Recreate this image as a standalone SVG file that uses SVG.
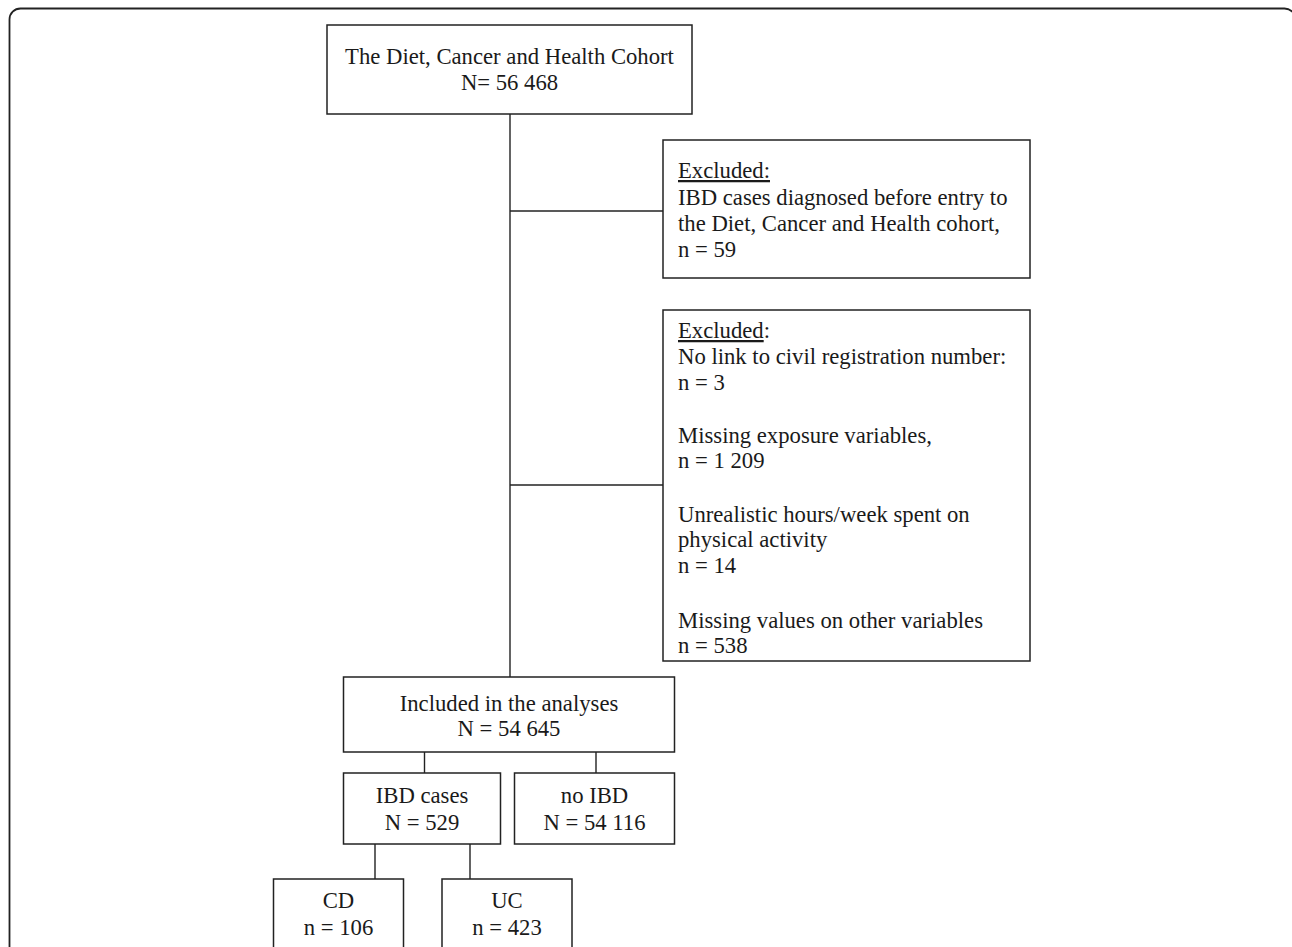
<svg xmlns="http://www.w3.org/2000/svg" width="1292" height="947" viewBox="0 0 1292 947">
<style>
.box{fill:#fff;stroke:#222;stroke-width:1.5}
.frame{fill:none;stroke:#222;stroke-width:1.8}
.conn line{stroke:#222;stroke-width:1.4}
text{font-family:"Liberation Serif","Times New Roman",serif;font-size:22.7px;fill:#1a1a1a}
.c{text-anchor:middle}
.u{text-decoration:underline}
</style>
<rect x="0" y="0" width="1292" height="947" fill="#fff"/>
<rect class="frame" x="9.5" y="8.5" width="1286" height="1000" rx="11" ry="11"/>
<g id="connectors" class="conn">
<line x1="510" y1="114" x2="510" y2="677"/>
<line x1="510" y1="211" x2="663" y2="211"/>
<line x1="510" y1="485" x2="663" y2="485"/>
<line x1="424.5" y1="750" x2="424.5" y2="773"/>
<line x1="596" y1="750" x2="596" y2="773"/>
<line x1="375" y1="842" x2="375" y2="879"/>
<line x1="470" y1="842" x2="470" y2="879"/>
</g>
<g id="cohort">
<rect class="box" x="327" y="25" width="365" height="89"/>
<text class="c" x="509.5" y="64">The Diet, Cancer and Health Cohort</text>
<text class="c" x="509.5" y="90">N= 56 468</text>
</g>
<g id="excluded1">
<rect class="box" x="663" y="140" width="367" height="138"/>
<text x="678" y="178"><tspan class="u">Excluded:</tspan></text>
<text x="678" y="205">IBD cases diagnosed before entry to</text>
<text x="678" y="231">the Diet, Cancer and Health cohort,</text>
<text x="678" y="257">n = 59</text>
</g>
<g id="excluded2">
<rect class="box" x="663" y="310" width="367" height="351"/>
<text x="678" y="338"><tspan class="u">Excluded</tspan>:</text>
<text x="678" y="364">No link to civil registration number:</text>
<text x="678" y="390">n = 3</text>
<text x="678" y="443">Missing exposure variables,</text>
<text x="678" y="468">n = 1 209</text>
<text x="678" y="522">Unrealistic hours/week spent on</text>
<text x="678" y="547">physical activity</text>
<text x="678" y="573">n = 14</text>
<text x="678" y="628">Missing values on other variables</text>
<text x="678" y="653">n = 538</text>
</g>
<g id="included">
<rect class="box" x="343.5" y="677" width="331" height="75"/>
<text class="c" x="509" y="711">Included in the analyses</text>
<text class="c" x="509" y="736">N = 54 645</text>
</g>
<g id="ibd">
<rect class="box" x="343.5" y="773" width="157" height="71"/>
<text class="c" x="422" y="803">IBD cases</text>
<text class="c" x="422" y="830">N = 529</text>
</g>
<g id="noibd">
<rect class="box" x="514.5" y="773" width="160" height="71"/>
<text class="c" x="594.5" y="803">no IBD</text>
<text class="c" x="594.5" y="830">N = 54 116</text>
</g>
<g id="cd">
<rect class="box" x="273.5" y="879" width="130" height="90"/>
<text class="c" x="338.5" y="908">CD</text>
<text class="c" x="338.5" y="935">n = 106</text>
</g>
<g id="uc">
<rect class="box" x="442" y="879" width="130" height="90"/>
<text class="c" x="507" y="908">UC</text>
<text class="c" x="507" y="935">n = 423</text>
</g>
</svg>
